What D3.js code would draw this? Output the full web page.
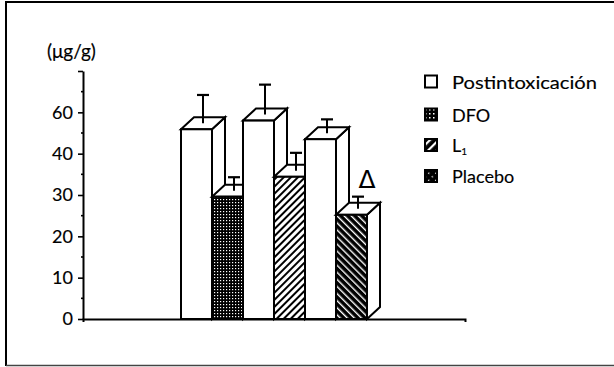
<!DOCTYPE html>
<html>
<head>
<meta charset="utf-8">
<script src="https://cdn.jsdelivr.net/npm/d3@7"></script>
<style>
  html, body { margin: 0; padding: 0; background: #fff; }
  svg { display: block; }
  text { font-family: Lato, "Open Sans", sans-serif; fill: #000; stroke: #000; stroke-width: 0.15px; }
</style>
</head>
<body>
<svg id="chart" width="614" height="367"></svg>
<script>
// ---- data ----
const groups = ["DFO", "L1", "Placebo"];
const postValues = [45.9, 48.0, 43.5];
const postErrors = [8.3, 8.7, 4.8];
const treatValues = [29.6, 34.4, 25.2];
const treatErrors = [4.7, 5.8, 4.4];
const yTickValues = [0, 10, 20, 30, 40, 50, 60];
const yTickLabels = ["0", "10", "20", "30", "40", "60", ""];
const yMinorTicks = [5, 15, 25, 35, 45, 55];
const legendLabels = ["Postintoxicación", "DFO", "L", "Placebo"];
const yUnit = "(μg/g)";
const markGroup = "Placebo";
const markSymbol = "Δ";

// ---- layout ----
const svg = d3.select("#chart");
const baseY = 319, topY = 71;
const y = d3.scaleLinear().domain([0, 60]).range([baseY, topY]);
const xAxisScale = d3.scaleLinear().domain([0, 1]).range([83, 465]);
const x0 = d3.scaleBand().domain(groups).range([181, 367]).padding(0);
const x1 = d3.scaleBand().domain(["post", "treat"]).range([0, x0.bandwidth()]).padding(0);
const dx = 13, dy = 12;

// ---- patterns ----
const defs = svg.append("defs");
const pDFO = defs.append("pattern").attr("id", "pDFO").attr("patternUnits", "userSpaceOnUse")
  .attr("width", 3).attr("height", 3);
pDFO.append("rect").attr("width", 3).attr("height", 3).attr("fill", "#000");
pDFO.append("rect").attr("x", 1).attr("y", 1).attr("width", 1.2).attr("height", 1.2).attr("fill", "#fff");

const pL1 = defs.append("pattern").attr("id", "pL1").attr("patternUnits", "userSpaceOnUse")
  .attr("width", 5).attr("height", 5).attr("patternTransform", "rotate(45)");
pL1.append("rect").attr("width", 5).attr("height", 5).attr("fill", "#fff");
pL1.append("rect").attr("x", 0).attr("width", 2).attr("height", 5).attr("fill", "#000");

const pPl = defs.append("pattern").attr("id", "pPl").attr("patternUnits", "userSpaceOnUse")
  .attr("width", 5).attr("height", 5).attr("patternTransform", "rotate(-45)");
pPl.append("rect").attr("width", 5).attr("height", 5).attr("fill", "#000");
pPl.append("rect").attr("x", 0).attr("width", 1.4).attr("height", 5).attr("fill", "#fff");

// legend patterns (coarser)
const lDFO = defs.append("pattern").attr("id", "lDFO").attr("patternUnits", "userSpaceOnUse")
  .attr("width", 4).attr("height", 4);
lDFO.append("rect").attr("width", 4).attr("height", 4).attr("fill", "#000");
lDFO.append("rect").attr("x", 1).attr("y", 1).attr("width", 1.5).attr("height", 1.5).attr("fill", "#fff");
const lL1 = defs.append("pattern").attr("id", "lL1").attr("patternUnits", "userSpaceOnUse")
  .attr("width", 6).attr("height", 6).attr("patternTransform", "rotate(45)");
lL1.append("rect").attr("width", 6).attr("height", 6).attr("fill", "#000");
lL1.append("rect").attr("x", 0).attr("width", 2.2).attr("height", 6).attr("fill", "#fff");
const lPl = defs.append("pattern").attr("id", "lPl").attr("patternUnits", "userSpaceOnUse")
  .attr("width", 5).attr("height", 5).attr("patternTransform", "rotate(-45)");
lPl.append("rect").attr("width", 5).attr("height", 5).attr("fill", "#000");
lPl.append("rect").attr("x", 0).attr("y", 0).attr("width", 1.3).attr("height", 1.3).attr("fill", "#fff");

const treatFill = { "DFO": "url(#pDFO)", "L1": "url(#pL1)", "Placebo": "url(#pPl)" };

// ---- frame ----
svg.append("line").attr("x1", 6).attr("x2", 614).attr("y1", 2).attr("y2", 2)
  .attr("stroke", "#000").attr("stroke-width", 2);
svg.append("line").attr("x1", 6).attr("x2", 6).attr("y1", 1).attr("y2", 366)
  .attr("stroke", "#000").attr("stroke-width", 2);
svg.append("line").attr("x1", 6).attr("x2", 614).attr("y1", 365.5).attr("y2", 365.5)
  .attr("stroke", "#444").attr("stroke-width", 1.5);

// ---- axes ----
const yAxis = d3.axisLeft(y).tickValues(yTickValues)
  .tickFormat((d, i) => yTickLabels[i]).tickSize(5).tickSizeOuter(0).tickPadding(5);
const gy = svg.append("g").attr("transform", "translate(83,0)").call(yAxis);
gy.select(".domain").attr("stroke-width", 2);
gy.selectAll(".tick line").attr("stroke-width", 1.6);
gy.selectAll(".tick text").attr("font-size", 18).attr("font-family", "Lato, sans-serif");
gy.selectAll(".minor").data(yMinorTicks).enter().append("line")
  .attr("class", "minor").attr("x1", -2).attr("x2", 1)
  .attr("y1", d => y(d)).attr("y2", d => y(d)).attr("stroke", "#000").attr("stroke-width", 1.6);

const xAxis = d3.axisBottom(xAxisScale).tickValues([]).tickSizeOuter(3);
const gx = svg.append("g").attr("transform", `translate(0,${baseY})`).call(xAxis);
gx.select(".domain").attr("stroke-width", 2);

svg.append("text").attr("x", 47).attr("y", 58).attr("font-size", 19).text(yUnit);

// ---- bars ----
const bars = [];
groups.forEach((g, i) => {
  bars.push({ g, key: "post", v: postValues[i], e: postErrors[i], fill: "#fff" });
  bars.push({ g, key: "treat", v: treatValues[i], e: treatErrors[i], fill: treatFill[g] });
});

const gb = svg.append("g");
bars.forEach(b => {
  const xl = x0(b.g) + x1(b.key);
  const w = x1.bandwidth();
  const yt = y(b.v);
  const g = gb.append("g");
  const st = { stroke: "#000", "stroke-width": 2, "stroke-linejoin": "miter" };
  const side = g.append("path")
    .attr("d", `M${xl + w},${baseY}L${xl + w + dx},${baseY - dy}L${xl + w + dx},${yt - dy}L${xl + w},${yt}Z`)
    .attr("fill", "#fff");
  const top = g.append("path")
    .attr("d", `M${xl},${yt}L${xl + dx},${yt - dy}L${xl + w + dx},${yt - dy}L${xl + w},${yt}Z`)
    .attr("fill", "#fff");
  const front = g.append("rect").attr("x", xl).attr("y", yt).attr("width", w).attr("height", baseY - yt)
    .attr("fill", b.fill);
  [side, top, front].forEach(s => Object.entries(st).forEach(([k, v]) => s.attr(k, v)));
  // error bar
  const cx = xl + w / 2 + dx / 2;
  const ye = y(b.v + b.e);
  g.append("line").attr("x1", cx).attr("x2", cx).attr("y1", yt - dy / 2).attr("y2", ye)
    .attr("stroke", "#000").attr("stroke-width", 2);
  g.append("line").attr("x1", cx - 6).attr("x2", cx + 6).attr("y1", ye).attr("y2", ye)
    .attr("stroke", "#000").attr("stroke-width", 2.2);
  if (b.g === markGroup && b.key === "treat") {
    g.append("text").attr("x", cx + 9).attr("y", ye - 9).attr("text-anchor", "middle")
      .style("font-family", "'DejaVu Sans', sans-serif").style("font-size", "25px")
      .style("stroke-width", "0px").text(markSymbol);
  }
});

// ---- legend ----
const legendFills = ["#fff", "url(#lDFO)", "url(#lL1)", "url(#lPl)"];
const legendY = [82, 115, 145.5, 176.5];
const lg = svg.append("g");
legendLabels.forEach((lab, i) => {
  lg.append("rect").attr("x", 425).attr("y", legendY[i] - 6.5).attr("width", 12).attr("height", 12)
    .attr("fill", legendFills[i]).attr("stroke", "#000").attr("stroke-width", 2);
  const t = lg.append("text").attr("x", 452).attr("y", legendY[i] + 6.5).attr("font-size", 18);
  if (i === 0) {
    t.attr("textLength", 145).attr("lengthAdjust", "spacingAndGlyphs").text(lab);
  } else if (lab === "L") {
    t.text(lab);
    t.append("tspan").attr("font-size", 10).attr("dy", 3).text("1");
  } else {
    t.text(lab);
  }
});
</script>
</body>
</html>
